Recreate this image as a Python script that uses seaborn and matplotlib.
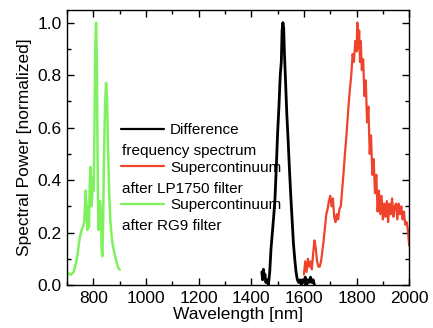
import matplotlib
matplotlib.use('Agg')
import numpy as np
import pandas as pd
import matplotlib.pyplot as plt
from matplotlib.ticker import MultipleLocator
import seaborn as sns

sns.set_style('ticks')
plt.rcParams['font.family'] = ['Liberation Sans', 'DejaVu Sans']
for key in ['text.color', 'axes.labelcolor', 'xtick.color', 'ytick.color', 'axes.edgecolor']:
    plt.rcParams[key] = 'black'

# ── Data ────────────────────────────────────────────────────────────────────
green_wl = [700, 705, 710, 715, 720, 725, 730, 735, 740, 745, 750, 755, 760, 765,
            768, 771, 774, 777, 780, 783, 786, 789, 792, 795, 798, 801, 804, 807,
            810, 813, 816, 819, 822, 825, 828, 831, 834, 837, 840, 844, 848, 852,
            856, 860, 864, 868, 872, 876, 880, 885, 890, 895, 900]
green_pw = [0.05, 0.045, 0.04, 0.04, 0.045, 0.05, 0.07, 0.09, 0.12, 0.16, 0.19, 0.21,
            0.22, 0.24, 0.30, 0.36, 0.28, 0.21, 0.30, 0.22, 0.38, 0.45, 0.30, 0.33,
            0.41, 0.36, 0.60, 0.90, 1.00, 0.85, 0.45, 0.21, 0.24, 0.32, 0.28, 0.14,
            0.11, 0.25, 0.48, 0.68, 0.77, 0.70, 0.50, 0.35, 0.25, 0.20, 0.16, 0.14,
            0.12, 0.10, 0.08, 0.065, 0.058]

black_wl = [1440, 1443, 1446, 1449, 1452, 1455, 1460, 1465, 1470, 1475, 1480, 1485,
            1490, 1495, 1500, 1505, 1510, 1514, 1517, 1520, 1523, 1526, 1530, 1535,
            1540, 1545, 1550, 1555, 1560, 1565, 1570, 1575, 1580, 1585, 1590, 1595,
            1600, 1605, 1610, 1615, 1620, 1625, 1630, 1635, 1640]
black_pw = [0.05, 0.02, 0.06, 0.03, 0.04, 0.01, 0.02, 0.00, 0.05, 0.14, 0.20, 0.26,
            0.33, 0.45, 0.58, 0.68, 0.80, 0.85, 0.97, 1.00, 0.98, 0.88, 0.78, 0.65,
            0.55, 0.44, 0.34, 0.25, 0.16, 0.10, 0.05, 0.02, 0.01, 0.02, 0.00, 0.02,
            0.01, 0.03, 0.00, 0.02, 0.01, 0.03, 0.01, 0.02, 0.00]

red_wl = [1600, 1605, 1610, 1615, 1620, 1625, 1630, 1635, 1640, 1645, 1650, 1655,
          1660, 1665, 1670, 1675, 1680, 1685, 1690, 1695, 1700, 1705, 1710, 1715,
          1720, 1725, 1730, 1735, 1740, 1745, 1750, 1755, 1760, 1765, 1770, 1775,
          1780, 1785, 1790, 1795, 1800, 1803, 1806, 1810, 1813, 1816, 1820, 1825,
          1830, 1835, 1840, 1845, 1850, 1855, 1860, 1865, 1870, 1875, 1880, 1885,
          1890, 1895, 1900, 1905, 1910, 1915, 1920, 1925, 1930, 1935, 1940, 1945,
          1950, 1955, 1960, 1965, 1970, 1975, 1980, 1985, 1990, 1995, 2000]
red_pw = [0.04, 0.09, 0.05, 0.10, 0.07, 0.09, 0.06, 0.12, 0.17, 0.14, 0.09, 0.07,
          0.07, 0.09, 0.13, 0.17, 0.22, 0.27, 0.29, 0.32, 0.34, 0.30, 0.33, 0.26,
          0.24, 0.27, 0.25, 0.29, 0.30, 0.36, 0.42, 0.49, 0.55, 0.62, 0.69, 0.75,
          0.80, 0.88, 0.85, 0.93, 0.89, 1.00, 0.90, 0.97, 0.85, 0.93, 0.82, 0.86,
          0.72, 0.78, 0.62, 0.68, 0.50, 0.57, 0.42, 0.48, 0.35, 0.42, 0.28, 0.36,
          0.27, 0.34, 0.25, 0.31, 0.26, 0.32, 0.24, 0.31, 0.27, 0.33, 0.26, 0.30,
          0.31, 0.25, 0.31, 0.27, 0.30, 0.25, 0.28, 0.23, 0.24, 0.21, 0.15]

labels_first = ['Difference', 'Supercontinuum', 'Supercontinuum']
labels_second = ['frequency spectrum', 'after LP1750 filter', 'after RG9 filter']
colors = ['#000000', '#f0432c', '#7df25c']

# ── Figure ──────────────────────────────────────────────────────────────────
fig = plt.figure(figsize=(4.33, 3.28), dpi=100)
ax = fig.add_axes([0.155, 0.131, 0.79, 0.84])

sns.lineplot(x=black_wl, y=black_pw, ax=ax, color=colors[0], lw=2.0, label=labels_first[0])
sns.lineplot(x=red_wl, y=red_pw, ax=ax, color=colors[1], lw=1.6, label=labels_first[1])
sns.lineplot(x=green_wl, y=green_pw, ax=ax, color=colors[2], lw=1.8, label=labels_first[2])

ax.set_xlim(700, 2000)
ax.set_ylim(0, 1.05)
ax.xaxis.set_major_locator(MultipleLocator(200))
ax.xaxis.set_minor_locator(MultipleLocator(100))
ax.yaxis.set_major_locator(MultipleLocator(0.2))
ax.yaxis.set_minor_locator(MultipleLocator(0.1))
ax.tick_params(which='both', direction='in', top=True, right=True, labelsize=12.5, pad=4)
ax.tick_params(which='major', length=5, width=1)
ax.tick_params(which='minor', length=3, width=1)
for s in ax.spines.values():
    s.set_linewidth(1.0)

ax.set_xlabel('Wavelength [nm]', fontsize=12.5, labelpad=1)
ax.set_ylabel('Spectral Power [normalized]', fontsize=12.5, labelpad=4)

leg = ax.legend(loc='upper left', bbox_to_anchor=(0.14, 0.61), frameon=False,
                fontsize=11, handlelength=2.8, handletextpad=0.4,
                labelspacing=1.55, borderaxespad=0)
for h in leg.get_lines():
    h.set_linewidth(1.6)

# second lines of the wrapped legend labels
fig.canvas.draw()
for txt, second in zip(leg.get_texts(), labels_second):
    bb = txt.get_window_extent().transformed(ax.transAxes.inverted())
    ax.text(0.16, bb.y0 - 0.025, second, transform=ax.transAxes,
            ha='left', va='top', fontsize=11)

fig.savefig('out.png', dpi=100)
